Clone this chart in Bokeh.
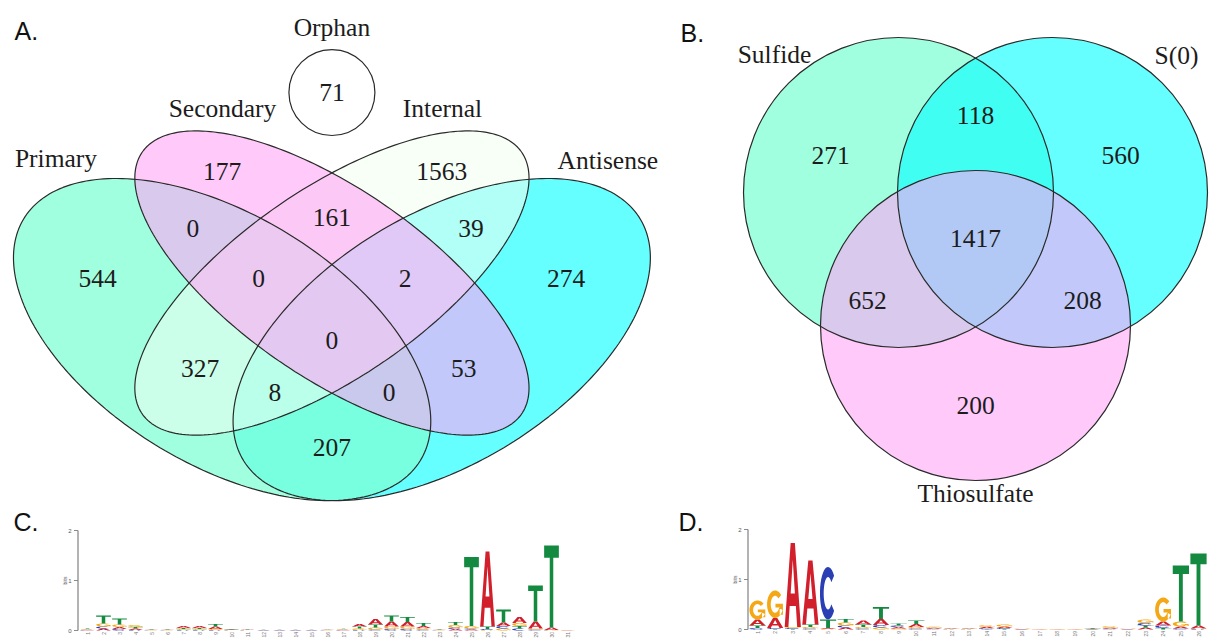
import numpy as np
from bokeh.plotting import figure
from bokeh.layouts import column, row
from bokeh.models import Range1d
from bokeh.core.properties import value
from bokeh.embed import file_html
from bokeh.resources import INLINE

SERIF = value("Liberation Serif")
SANS = value("Liberation Sans")
INK = "#1c1c1c"
EDGE = "#2a2a2a"
FS = "25.5px"

# ---------------- data ----------------
# Panel A: four-way Venn (TSS classes) + orphan
venn4_sets = ["Primary", "Secondary", "Internal", "Antisense"]
venn4_regions = ["P", "S", "I", "A", "PS", "SI", "IA", "PI", "SA", "PA",
                 "PSI", "SIA", "PIA", "PSA", "PSIA"]
venn4_counts = [544, 177, 1563, 274, 0, 161, 39, 327, 53, 207, 0, 2, 8, 0, 0]
orphan_label = "Orphan"
orphan_count = 71

# Panel B: three-way Venn
venn3_sets = ["Sulfide", "S(0)", "Thiosulfate"]
venn3_regions = ["Su", "S0", "Th", "SuS0", "SuTh", "S0Th", "SuS0Th"]
venn3_counts = [271, 560, 200, 118, 652, 208, 1417]

# Panel C: sequence logo (bits per base, 31 positions)
logo_c_A = [0.010, 0.040, 0.040, 0.030, 0.008, 0.008, 0.040, 0.040, 0.050, 0.008,
            0.012, 0.004, 0.004, 0.004, 0.004, 0.006, 0.010, 0.050, 0.110, 0.100,
            0.090, 0.040, 0.008, 0.030, 0.020, 1.500, 0.070, 0.120, 0.140, 0.050, 0.004]
logo_c_C = [0.005, 0.040, 0.030, 0.010, 0.004, 0.004, 0.010, 0.010, 0.010, 0.004,
            0.004, 0.004, 0.004, 0.004, 0.004, 0.004, 0.005, 0.010, 0.020, 0.030,
            0.030, 0.020, 0.004, 0.030, 0.020, 0.020, 0.050, 0.040, 0.020, 0.005, 0.002]
logo_c_G = [0.010, 0.060, 0.050, 0.040, 0.004, 0.004, 0.020, 0.020, 0.020, 0.006,
            0.006, 0.004, 0.004, 0.004, 0.004, 0.004, 0.010, 0.030, 0.040, 0.050,
            0.050, 0.030, 0.004, 0.050, 0.050, 0.010, 0.040, 0.060, 0.020, 0.005, 0.002]
logo_c_T = [0.015, 0.160, 0.120, 0.030, 0.008, 0.008, 0.020, 0.020, 0.050, 0.010,
            0.010, 0.004, 0.004, 0.004, 0.004, 0.006, 0.010, 0.040, 0.060, 0.120,
            0.100, 0.060, 0.008, 0.060, 1.380, 0.050, 0.260, 0.050, 0.720, 1.640, 0.004]

# Panel D: sequence logo (bits per base, 26 positions)
logo_d_A = [0.12, 0.20, 1.68, 1.28, 0.02, 0.04, 0.08, 0.12, 0.03, 0.06, 0.02, 0.010, 0.010,
            0.03, 0.03, 0.005, 0.003, 0.003, 0.003, 0.005, 0.02, 0.005, 0.04, 0.08, 0.04, 0.06]
logo_d_C = [0.03, 0.02, 0.02, 0.02, 1.05, 0.04, 0.02, 0.05, 0.03, 0.02, 0.01, 0.005, 0.005,
            0.02, 0.02, 0.003, 0.003, 0.003, 0.003, 0.003, 0.01, 0.003, 0.05, 0.05, 0.02, 0.01]
logo_d_G = [0.38, 0.55, 0.02, 0.03, 0.01, 0.06, 0.03, 0.04, 0.02, 0.03, 0.02, 0.010, 0.010,
            0.03, 0.04, 0.005, 0.003, 0.003, 0.003, 0.005, 0.03, 0.005, 0.07, 0.48, 0.10, 0.01]
logo_d_T = [0.05, 0.01, 0.01, 0.05, 0.17, 0.07, 0.05, 0.24, 0.04, 0.07, 0.005, 0.005, 0.005,
            0.005, 0.01, 0.003, 0.003, 0.003, 0.003, 0.015, 0.005, 0.003, 0.04, 0.03, 1.12, 1.44]

logo_ticks = [0, 1, 2]
base_colors = {"A": "#d21f2c", "C": "#2b3fb4", "G": "#f4a816", "T": "#138a3f"}

# ---------------- helpers ----------------
def blank(width, height, xr, yr):
    p = figure(width=width, height=height, x_range=xr, y_range=yr,
               toolbar_location=None, output_backend="svg",
               x_axis_location=None, y_axis_location=None, min_border=0)
    p.xgrid.visible = False
    p.ygrid.visible = False
    p.outline_line_color = None
    p.background_fill_color = "white"
    p.border_fill_color = "white"
    return p


def ellipse_pts(cx, cy, a, b, rot, n=240):
    t = np.linspace(0, 2 * np.pi, n)
    r = np.radians(rot)
    x = a * np.cos(t)
    y = b * np.sin(t)
    return list(cx + x * np.cos(r) - y * np.sin(r)), list(cy + x * np.sin(r) + y * np.cos(r))


# ---------------- Panel A ----------------
pA = blank(670, 508, Range1d(0.04724, 0.96254), Range1d(0.17093, 1.07004))
ell_cx = [0.35, 0.50, 0.50, 0.65]
ell_cy = [0.47, 0.57, 0.57, 0.47]
ell_a = [0.35, 0.35, 0.35, 0.35]
ell_b = [0.20, 0.15, 0.15, 0.20]
ell_rot = [135, 135, 45, 45]
ell_fill = ["#7FFFD4", "#FFA5F7", "#F0FFF0", "#00FFFF"]
ell_alpha = [0.74, 0.60, 0.55, 0.60]
ell_pts = [ellipse_pts(ell_cx[i], ell_cy[i], ell_a[i], ell_b[i], ell_rot[i]) for i in range(4)]
for i in [3, 0, 2, 1]:
    pA.patch(ell_pts[i][0], ell_pts[i][1], fill_color=ell_fill[i], fill_alpha=ell_alpha[i],
             line_color=None)
for i in range(4):
    pA.patch(ell_pts[i][0], ell_pts[i][1], fill_color=None, line_color=EDGE, line_width=1.2)

venn4_pos = {
    "P": (0.180, 0.578), "A": (0.820, 0.578),
    "S": (0.350, 0.767), "I": (0.650, 0.767),
    "PS": (0.310, 0.666), "IA": (0.690, 0.666),
    "SI": (0.500, 0.686),
    "PSI": (0.400, 0.578), "SIA": (0.600, 0.578),
    "PSIA": (0.500, 0.468),
    "PI": (0.320, 0.419), "SA": (0.680, 0.419),
    "PIA": (0.422, 0.376), "PSA": (0.578, 0.376),
    "PA": (0.500, 0.279)}
pA.text(x=[venn4_pos[r][0] for r in venn4_regions], y=[venn4_pos[r][1] for r in venn4_regions],
        text=[str(c) for c in venn4_counts], text_font=SERIF, text_font_size=FS,
        text_align="center", text_baseline="middle", text_color=INK)

set4_pos = [(0.123, 0.790), (0.3505, 0.879), (0.651, 0.879), (0.877, 0.787)]
pA.text(x=[q[0] for q in set4_pos], y=[q[1] for q in set4_pos], text=venn4_sets,
        text_font=SERIF, text_font_size=FS, text_align="center", text_baseline="middle",
        text_color=INK)

# orphan circle
pA.scatter(x=[0.5], y=[0.9072], size=86, marker="circle", fill_color=None,
           line_color=EDGE, line_width=1.2)
pA.text(x=[0.5, 0.5], y=[0.9072, 1.022], text=[str(orphan_count), orphan_label],
        text_font=SERIF, text_font_size=FS, text_align="center", text_baseline="middle",
        text_color=INK)
pA.text(x=[0.0664], y=[1.0152], text=["A."], text_font=SANS, text_font_size="25px",
        text_align="left", text_baseline="middle", text_color="#111111")

# ---------------- Panel B ----------------
pB = blank(540, 508, Range1d(670, 1210), Range1d(508, 0))
circ_x = [898, 1052, 975]
circ_y = [192, 192, 325]
circ_r = 155
circ_fill = ["#7FFFD4", "#00FFFF", "#FFA5F7"]
circ_alpha = [0.74, 0.60, 0.60]
for i in range(3):
    pB.circle(x=[circ_x[i]], y=[circ_y[i]], radius=circ_r, fill_color=circ_fill[i],
              fill_alpha=circ_alpha[i], line_color=None)
pB.circle(x=circ_x, y=circ_y, radius=circ_r, fill_color=None, line_color=EDGE, line_width=1.2)

venn3_pos = {"Su": (830, 155), "S0": (1120, 155), "Th": (975, 405), "SuS0": (975, 115),
             "SuTh": (867, 300), "S0Th": (1082, 300), "SuS0Th": (975, 238)}
pB.text(x=[venn3_pos[r][0] for r in venn3_regions], y=[venn3_pos[r][1] for r in venn3_regions],
        text=[str(c) for c in venn3_counts], text_font=SERIF, text_font_size=FS,
        text_align="center", text_baseline="middle", text_color=INK)
set3_pos = [(774, 54), (1176, 55), (975, 493)]
pB.text(x=[q[0] for q in set3_pos], y=[q[1] for q in set3_pos], text=venn3_sets,
        text_font=SERIF, text_font_size=FS, text_align="center", text_baseline="middle",
        text_color=INK)
pB.text(x=[680], y=[32], text=["B."], text_font=SANS, text_font_size="25px",
        text_align="left", text_baseline="middle", text_color="#111111")


# ---------------- Logos ----------------
def _arc(cx, cy, rx, ry, a0, a1, n=30):
    t = np.radians(np.linspace(a0, a1, n))
    return list(cx + rx * np.cos(t)), list(cy + ry * np.sin(t))


def letter_shape(ch):
    if ch == "T":
        xs = [0.0, 1.0, 1.0, 0.62, 0.62, 0.38, 0.38, 0.0]
        ys = [1.0, 1.0, 0.85, 0.85, 0.0, 0.0, 0.85, 0.85]
        return [[(xs, ys)]]
    if ch == "A":
        xo = [0.0, 0.37, 0.63, 1.0, 0.77, 0.69, 0.31, 0.23]
        yo = [0.0, 1.0, 1.0, 0.0, 0.0, 0.25, 0.25, 0.0]
        xh = [0.37, 0.5, 0.63]
        yh = [0.40, 0.80, 0.40]
        return [[(xo, yo), (xh, yh)]]
    if ch == "C":
        ox, oy = _arc(0.5, 0.5, 0.5, 0.5, 42, 318)
        ix, iy = _arc(0.5, 0.5, 0.27, 0.31, 318, 42)
        return [[(ox + ix, oy + iy)]]
    ox, oy = _arc(0.5, 0.5, 0.5, 0.5, 42, 335)
    ix, iy = _arc(0.5, 0.5, 0.27, 0.31, 335, 42)
    bx = [0.52, 0.98, 0.98, 0.78, 0.78, 0.52]
    by = [0.52, 0.52, 0.12, 0.12, 0.38, 0.38]
    return [[(ox + ix, oy + iy)], [(bx, by)]]


def make_logo(width, x0px, pos1px, step, base_px, label, A, C, G, T):
    n = len(A)
    px_per_bit = 50.0
    xr = Range1d(1 + (x0px - pos1px) / step, 1 + (x0px + width - pos1px) / step)
    yr = Range1d((base_px - 640) / px_per_bit, (base_px - 508) / px_per_bit)
    p = blank(width, 132, xr, yr)
    xs_all, ys_all, cols = [], [], []
    w = 0.92
    for k in range(n):
        heights = {"A": A[k], "C": C[k], "G": G[k], "T": T[k]}
        y0 = 0.0
        for ch in sorted(heights, key=lambda c: heights[c]):
            h = heights[ch]
            gx, gy = [], []
            for poly in letter_shape(ch):
                gx.append([[k + 1 - w / 2 + xx * w for xx in ring[0]] for ring in poly])
                gy.append([[y0 + yy * h for yy in ring[1]] for ring in poly])
            xs_all.append(gx)
            ys_all.append(gy)
            cols.append(base_colors[ch])
            y0 += h
    p.multi_polygons(xs=xs_all, ys=ys_all, fill_color=cols, line_color=None)
    # axis of the logo
    ax = 1 + (-9.5) / step
    tick = 4.0 / step
    p.segment(x0=[ax], y0=[logo_ticks[0]], x1=[ax], y1=[logo_ticks[-1]], line_color="#8a8a8a",
              line_width=1.3)
    p.segment(x0=[ax] * 3, y0=logo_ticks, x1=[ax - tick] * 3, y1=logo_ticks,
              line_color="#8a8a8a", line_width=1)
    p.text(x=[ax - 8.0 / step] * 3, y=logo_ticks, text=[str(t) for t in logo_ticks],
           text_font=SANS, text_font_size="6px", text_align="center", text_baseline="middle",
           text_color="#555555")
    p.text(x=[ax - 13.0 / step], y=[1], text=["bits"], angle=np.pi / 2, text_font=SANS,
           text_font_size="5px", text_align="center", text_baseline="middle",
           text_color="#555555")
    p.text(x=list(range(1, n + 1)), y=[-0.03] * n, text=[str(i) for i in range(1, n + 1)],
           angle=np.pi / 2, text_font=SANS, text_font_size="5px", text_align="right",
           text_baseline="middle", text_color="#777777")
    p.text(x=[1 + (label[1] - pos1px) / step], y=[(base_px - 521) / px_per_bit], text=[label[0]],
           text_font=SANS, text_font_size="25px", text_align="left", text_baseline="middle",
           text_color="#111111")
    return p


pC = make_logo(640, 0, 87, 16.0, 630, ("C.", 13), logo_c_A, logo_c_C, logo_c_G, logo_c_T)
pD = make_logo(570, 640, 757, 17.64, 629, ("D.", 678), logo_d_A, logo_d_C, logo_d_G, logo_d_T)

layout = column(row(pA, pB), row(pC, pD))
open("out.html", "w").write(file_html(layout, INLINE))
